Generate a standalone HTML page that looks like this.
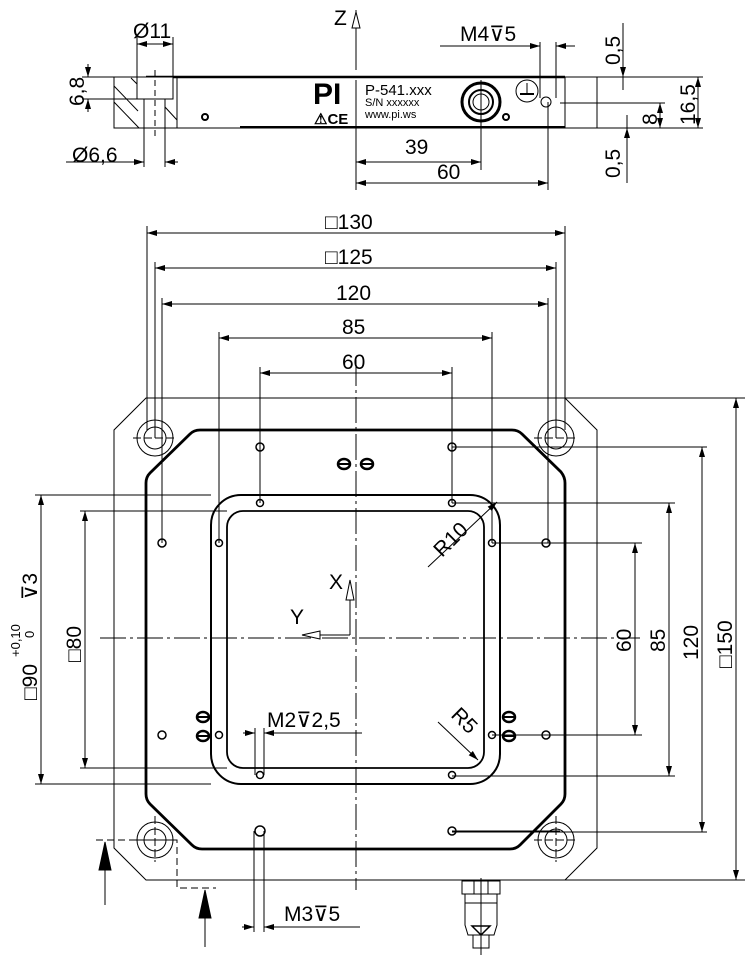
<!DOCTYPE html>
<html><head><meta charset="utf-8"><style>
html,body{margin:0;padding:0;background:#fff}
svg{display:block}
text{font-family:"Liberation Sans",sans-serif;fill:#000}
</style></head><body>
<svg width="750" height="961" viewBox="0 0 750 961" xmlns="http://www.w3.org/2000/svg">
<defs>
<marker id="a" viewBox="0 0 10 6" refX="10" refY="3" markerWidth="10" markerHeight="6" orient="auto-start-reverse" markerUnits="userSpaceOnUse"><path d="M0,0 L10,3 L0,6 z" fill="#000"/></marker>
</defs>
<g stroke="#000" fill="none" stroke-width="1">
<!-- ===== SIDE VIEW ===== -->
<rect x="114" y="77" width="483" height="51"/>
<line x1="146" y1="77" x2="565" y2="77" stroke-width="2.5"/>
<line x1="177" y1="77" x2="177" y2="128"/>
<line x1="565" y1="77" x2="565" y2="128"/>
<line x1="240" y1="127" x2="565" y2="127" stroke-width="2"/>
<rect x="137" y="77" width="36" height="22" fill="#fff"/>
<line x1="144" y1="99" x2="144" y2="128"/><line x1="165" y1="99" x2="165" y2="128"/>
<line x1="155" y1="70" x2="155" y2="140" stroke-dasharray="6,4"/>
<line x1="114" y1="86" x2="138" y2="111"/><line x1="114" y1="102" x2="139" y2="128"/>
<line x1="131" y1="78" x2="137" y2="84"/><line x1="165" y1="107" x2="177" y2="120"/>
<circle cx="481" cy="102" r="19" stroke-width="3"/>
<circle cx="481" cy="102" r="12" stroke-width="2"/>
<circle cx="481" cy="102" r="8"/>
<line x1="481" y1="80" x2="481" y2="170"/>
<circle cx="527" cy="91" r="11"/>
<line x1="527" y1="83" x2="527" y2="94"/><line x1="520" y1="94" x2="534" y2="94" stroke-width="2"/>
<circle cx="546" cy="102" r="5"/>
<line x1="540" y1="42" x2="540" y2="98"/><line x1="556" y1="42" x2="556" y2="98"/>
<line x1="548" y1="102" x2="548" y2="190"/>
<line x1="440" y1="46" x2="540" y2="46" marker-end="url(#a)"/>
<line x1="556" y1="46" x2="575" y2="46" marker-start="url(#a)"/>
<circle cx="205" cy="117" r="3" stroke-width="2"/>
<circle cx="506" cy="117" r="3" stroke-width="2"/>
<line x1="356" y1="10" x2="356" y2="70"/>
<path d="M352,28 L356,12 L360,28 Z" fill="#fff"/>
<line x1="356" y1="80" x2="356" y2="190"/>
<line x1="137" y1="37" x2="137" y2="77"/><line x1="173" y1="37" x2="173" y2="77"/>
<line x1="137" y1="44" x2="173" y2="44" marker-start="url(#a)" marker-end="url(#a)"/>
<line x1="144" y1="128" x2="144" y2="167"/><line x1="165" y1="128" x2="165" y2="167"/>
<line x1="66" y1="162" x2="144" y2="162" marker-end="url(#a)"/>
<line x1="165" y1="162" x2="178" y2="162" marker-start="url(#a)"/>
<line x1="82" y1="77" x2="137" y2="77"/><line x1="82" y1="99" x2="137" y2="99"/>
<line x1="88" y1="64" x2="88" y2="77" marker-end="url(#a)"/>
<line x1="88" y1="99" x2="88" y2="112" marker-start="url(#a)"/>
<line x1="356" y1="162" x2="481" y2="162" marker-start="url(#a)" marker-end="url(#a)"/>
<line x1="356" y1="183" x2="548" y2="183" marker-start="url(#a)" marker-end="url(#a)"/>
<line x1="597" y1="77" x2="703" y2="77"/><line x1="597" y1="128" x2="703" y2="128"/>
<line x1="560" y1="103" x2="665" y2="103"/>
<line x1="623" y1="23" x2="623" y2="77" marker-end="url(#a)"/>
<line x1="623" y1="77" x2="623" y2="90"/>
<line x1="627" y1="115" x2="627" y2="128"/>
<line x1="627" y1="128" x2="627" y2="183" marker-start="url(#a)"/>
<line x1="660" y1="103" x2="660" y2="128" marker-start="url(#a)" marker-end="url(#a)"/>
<line x1="698" y1="77" x2="698" y2="128" marker-start="url(#a)" marker-end="url(#a)"/>

<!-- ===== TOP VIEW ===== -->
<path d="M146,398 L565,398 L597,430 L597,848 L565,880 L146,880 L114,848 L114,430 Z"/>
<path d="M200,430 L512,430 Q518,430 522,434 L561,472 Q565,477 565,483 L565,794 Q565,800 561,804 L520,845 Q516,849 510,849 L202,849 Q196,849 192,845 L150,804 Q146,800 146,794 L146,483 Q146,477 150,473 L190,434 Q194,430 200,430 Z" stroke-width="2.8"/>
<rect x="211" y="495" width="289" height="289" rx="30" stroke-width="2"/>
<rect x="227" y="511" width="257" height="257" rx="16" stroke-width="1.8"/>
<g>
<circle cx="155" cy="438" r="18"/><circle cx="155" cy="438" r="11"/>
<circle cx="556" cy="438" r="18"/><circle cx="556" cy="438" r="11"/>
<circle cx="155" cy="840" r="18"/><circle cx="155" cy="840" r="11"/>
<circle cx="556" cy="840" r="18"/><circle cx="556" cy="840" r="11"/>
</g>
<g stroke-dasharray="8,3">
<line x1="133" y1="438" x2="177" y2="438"/><line x1="534" y1="438" x2="578" y2="438"/>
<line x1="133" y1="840" x2="177" y2="840"/><line x1="534" y1="840" x2="578" y2="840"/>
<line x1="556" y1="816" x2="556" y2="862"/><line x1="155" y1="816" x2="155" y2="862"/>
</g>
<g stroke-width="1.5">
<circle cx="260" cy="447" r="4"/><circle cx="452" cy="447" r="4"/>
<circle cx="260" cy="503" r="3.5"/><circle cx="452" cy="503" r="3.5"/>
<circle cx="162" cy="543" r="4"/><circle cx="219" cy="543" r="3.5"/><circle cx="492" cy="543" r="3.5"/><circle cx="546" cy="543" r="4"/>
<circle cx="162" cy="735" r="4"/><circle cx="219" cy="735" r="3.5"/><circle cx="492" cy="735" r="3.5"/><circle cx="546" cy="735" r="4"/>
<circle cx="260" cy="775" r="3.5"/><circle cx="452" cy="775" r="3.5"/>
<circle cx="260" cy="831" r="5"/><circle cx="452" cy="831" r="4"/>
</g>
<g stroke-width="2.5">
<ellipse cx="344" cy="464" rx="6" ry="5"/><ellipse cx="367" cy="464" rx="6" ry="5"/>
<ellipse cx="203" cy="717" rx="6" ry="5"/><ellipse cx="203" cy="736" rx="6" ry="5"/>
<ellipse cx="509" cy="717" rx="6" ry="5"/><ellipse cx="509" cy="736" rx="6" ry="5"/>
</g>
<g stroke-width="2">
<line x1="338" y1="464" x2="350" y2="464"/><line x1="361" y1="464" x2="373" y2="464"/>
<line x1="197" y1="717" x2="209" y2="717"/><line x1="197" y1="736" x2="209" y2="736"/>
<line x1="503" y1="717" x2="515" y2="717"/><line x1="503" y1="736" x2="515" y2="736"/>
</g>
<line x1="356" y1="360" x2="356" y2="890" stroke-dasharray="26,4,3,4"/>
<line x1="100" y1="638" x2="640" y2="638" stroke-dasharray="26,4,3,4"/>
<line x1="147" y1="226" x2="147" y2="430"/><line x1="565" y1="226" x2="565" y2="430"/>
<line x1="147" y1="233" x2="565" y2="233" marker-start="url(#a)" marker-end="url(#a)"/>
<line x1="155" y1="262" x2="155" y2="438"/><line x1="556" y1="262" x2="556" y2="438"/>
<line x1="155" y1="268" x2="556" y2="268" marker-start="url(#a)" marker-end="url(#a)"/>
<line x1="162" y1="298" x2="162" y2="543"/><line x1="548" y1="298" x2="548" y2="543"/>
<line x1="162" y1="304" x2="548" y2="304" marker-start="url(#a)" marker-end="url(#a)"/>
<line x1="219" y1="332" x2="219" y2="543"/><line x1="492" y1="332" x2="492" y2="543"/>
<line x1="219" y1="338" x2="492" y2="338" marker-start="url(#a)" marker-end="url(#a)"/>
<line x1="260" y1="367" x2="260" y2="503"/><line x1="452" y1="367" x2="452" y2="503"/>
<line x1="260" y1="373" x2="452" y2="373" marker-start="url(#a)" marker-end="url(#a)"/>
<line x1="492" y1="543" x2="642" y2="543"/><line x1="492" y1="735" x2="642" y2="735"/>
<line x1="635" y1="543" x2="635" y2="735" marker-start="url(#a)" marker-end="url(#a)"/>
<line x1="452" y1="503" x2="675" y2="503"/><line x1="452" y1="776" x2="675" y2="776"/>
<line x1="669" y1="503" x2="669" y2="776" marker-start="url(#a)" marker-end="url(#a)"/>
<line x1="452" y1="447" x2="707" y2="447"/><line x1="452" y1="832" x2="707" y2="832"/>
<line x1="702" y1="447" x2="702" y2="832" marker-start="url(#a)" marker-end="url(#a)"/>
<line x1="565" y1="398" x2="745" y2="398"/><line x1="565" y1="880" x2="745" y2="880"/>
<line x1="736" y1="398" x2="736" y2="880" marker-start="url(#a)" marker-end="url(#a)"/>
<line x1="35" y1="495" x2="211" y2="495"/><line x1="35" y1="784" x2="211" y2="784"/>
<line x1="41" y1="495" x2="41" y2="784" marker-start="url(#a)" marker-end="url(#a)"/>
<line x1="80" y1="511" x2="227" y2="511"/><line x1="80" y1="768" x2="227" y2="768"/>
<line x1="85" y1="511" x2="85" y2="768" marker-start="url(#a)" marker-end="url(#a)"/>
<line x1="350" y1="635" x2="350" y2="595"/>
<path d="M346,600 L350,580 L354,600 Z" fill="#fff"/>
<line x1="350" y1="635" x2="320" y2="635"/>
<path d="M320,631 L302,635 L320,639 Z" fill="#fff"/>
<line x1="428" y1="567" x2="497" y2="502" marker-end="url(#a)"/>
<line x1="438" y1="722" x2="478" y2="760" marker-end="url(#a)"/>
<line x1="255" y1="728" x2="255" y2="775"/><line x1="264" y1="728" x2="264" y2="775"/>
<line x1="243" y1="733" x2="255" y2="733" marker-end="url(#a)"/>
<line x1="264" y1="733" x2="362" y2="733" marker-start="url(#a)"/>
<line x1="254" y1="831" x2="254" y2="932"/><line x1="264" y1="831" x2="264" y2="932"/>
<line x1="242" y1="927" x2="254" y2="927" marker-end="url(#a)"/>
<line x1="264" y1="927" x2="360" y2="927" marker-start="url(#a)"/>
<line x1="452" y1="831" x2="560" y2="831"/>
<path d="M96,840 L177,840 L177,888 L216,888" stroke-dasharray="7,4"/>
<line x1="105" y1="845" x2="105" y2="905"/>
<path d="M99,870 L105,842 L111,870 Z" fill="#000"/>
<line x1="205" y1="890" x2="205" y2="947"/>
<path d="M199,918 L205,890 L211,918 Z" fill="#000"/>
<rect x="462" y="881" width="38" height="13"/>
<line x1="474" y1="881" x2="474" y2="894"/><line x1="488" y1="881" x2="488" y2="894"/>
<path d="M465,894 L465,925 L468,935 L494,935 L497,925 L497,894"/>
<line x1="465" y1="903" x2="497" y2="903"/>
<path d="M472,926 L490,926 L481,935 Z" stroke-width="1.5"/>
<rect x="473" y="935" width="16" height="13"/>
<line x1="481" y1="878" x2="481" y2="955"/>
</g>
<g font-size="21">
<text x="133" y="38">Ø11</text>
<text x="72" y="162">Ø6,6</text>
<text x="334" y="25">Z</text>
<text x="405" y="154">39</text>
<text x="437" y="179">60</text>
<text x="460" y="41">M4⊽5</text>
<text transform="translate(84,106) rotate(-90)">6,8</text>
<text transform="translate(620,65) rotate(-90)">0,5</text>
<text transform="translate(620,178) rotate(-90)">0,5</text>
<text transform="translate(657,125) rotate(-90)">8</text>
<text transform="translate(695,125) rotate(-90)">16,5</text>
<text x="325" y="229">□130</text>
<text x="325" y="264">□125</text>
<text x="336" y="300">120</text>
<text x="342" y="334">85</text>
<text x="342" y="369">60</text>
<text x="329" y="589">X</text>
<text x="290" y="624">Y</text>
<text x="267" y="727">M2⊽2,5</text>
<text x="284" y="921">M3⊽5</text>
<text transform="translate(442,558) rotate(-45)">R10</text>
<text transform="translate(450,716) rotate(45)">R5</text>
<text transform="translate(631,652) rotate(-90)">60</text>
<text transform="translate(665,652) rotate(-90)">85</text>
<text transform="translate(698,660) rotate(-90)">120</text>
<text transform="translate(732,668) rotate(-90)">□150</text>
<text transform="translate(81,662) rotate(-90)">□80</text>
<text transform="translate(37,700) rotate(-90)">□90</text>
<text transform="translate(37,600) rotate(-90)">⊽3</text>
</g>
<g font-size="13">
<text transform="translate(20,657) rotate(-90)">+0,10</text>
<text transform="translate(34,638) rotate(-90)">0</text>
</g>
<text x="313" y="104" font-family="Liberation Serif,serif" font-weight="bold" font-size="30">PI</text>
<text x="314" y="124" font-size="15" font-weight="bold">⚠CE</text>
<text x="365" y="95" font-size="15">P-541.xxx</text>
<text x="365" y="106" font-size="11">S/N xxxxxx</text>
<text x="365" y="118" font-size="11">www.pi.ws</text>
</svg>
</body></html>
